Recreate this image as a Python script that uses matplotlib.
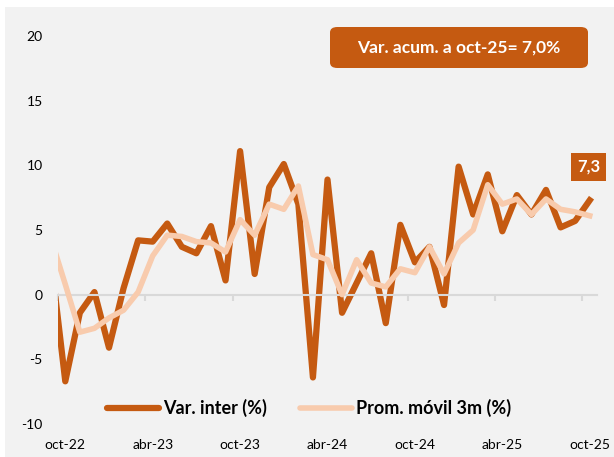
import matplotlib.pyplot as plt
from matplotlib.patches import Rectangle, FancyBboxPatch

# meses: sep-22 (recortado por el borde) hasta oct-25
meses = ['sep-22', 'oct-22', 'nov-22', 'dic-22', 'ene-23', 'feb-23', 'mar-23', 'abr-23',
         'may-23', 'jun-23', 'jul-23', 'ago-23', 'sep-23', 'oct-23', 'nov-23', 'dic-23',
         'ene-24', 'feb-24', 'mar-24', 'abr-24', 'may-24', 'jun-24', 'jul-24', 'ago-24',
         'sep-24', 'oct-24', 'nov-24', 'dic-24', 'ene-25', 'feb-25', 'mar-25', 'abr-25',
         'may-25', 'jun-25', 'jul-25', 'ago-25', 'sep-25', 'oct-25']
var_inter = [2.9, -6.7, -1.4, 0.2, -4.1, 0.5, 4.2, 4.1, 5.5, 3.7, 3.2, 5.3, 1.1, 11.1,
             1.6, 8.3, 10.1, 7.0, -6.4, 8.9, -1.4, 0.9, 3.2, -2.2, 5.4, 2.5, 3.7, -0.8,
             9.9, 6.2, 9.3, 4.9, 7.7, 6.2, 8.1, 5.2, 5.7, 7.3]
prom_movil = [4.4, 0.8, -2.9, -2.6, -1.8, -1.2, 0.2, 3.0, 4.6, 4.5, 4.1, 4.0, 3.3, 5.8,
              4.6, 7.0, 6.6, 8.4, 3.1, 2.7, 0.0, 2.7, 0.9, 0.6, 2.0, 1.7, 3.7, 1.6,
              4.0, 5.0, 8.5, 7.0, 7.4, 6.2, 7.4, 6.6, 6.4, 6.1]
etiquetas = ['oct-22', 'abr-23', 'oct-23', 'abr-24', 'oct-24', 'abr-25', 'oct-25']
yticks = [-10, -5, 0, 5, 10, 15, 20]

oscuro = '#C55A11'
claro = '#F8CBAD'
fondo = '#F2F2F2'
fuente = 'Lato'

x = list(range(-1, len(meses) - 1))

fig = plt.figure(figsize=(6.14, 4.57), dpi=100, facecolor='white')
fig.patches.append(Rectangle((5 / 614, 0), 1, 1 - 7 / 457, transform=fig.transFigure,
                             facecolor=fondo, edgecolor='none', zorder=-10))
ax = fig.add_axes([58 / 614, 33 / 457, 539 / 614, 388 / 457])
ax.set_facecolor('none')

ax.plot(x, var_inter, color=oscuro, lw=4.5, solid_joinstyle='round', label='Var. inter (%)', zorder=2)
ax.plot(x, prom_movil, color=claro, lw=4.0, solid_joinstyle='round', label='Prom. móvil 3m (%)', zorder=3)

ax.set_xlim(-0.5, 36.5)
ax.set_ylim(-10, 20)

for s in ['top', 'right', 'left']:
    ax.spines[s].set_visible(False)
ax.spines['bottom'].set_position(('data', 0))
ax.spines['bottom'].set_color('#D9D9D9')
ax.spines['bottom'].set_linewidth(1.5)
ax.set_xticks([i - 0.5 for i in range(0, 37, 6)])
ax.tick_params(axis='x', direction='out', length=4, width=1.5, color='#D9D9D9', labelbottom=False)

ax.set_yticks(yticks)
ax.set_yticklabels([str(v) for v in yticks], fontname=fuente, fontsize=10)
ax.tick_params(axis='y', length=0, pad=11)

sec = ax.secondary_xaxis('bottom')
sec.set_xticks(list(range(0, 37, 6)))
sec.set_xticklabels(etiquetas, fontname=fuente, fontsize=10)
sec.tick_params(length=0, pad=11)
sec.spines['bottom'].set_visible(False)

leg = ax.legend(loc='center', bbox_to_anchor=(0.466, 0.041), ncol=2, frameon=False,
                handlelength=2.9, handletextpad=0.22, columnspacing=1.8,
                prop={'family': fuente, 'weight': 'bold', 'size': 13})
for h in leg.get_lines():
    h.set_solid_capstyle('round')

# caja de variación acumulada
caja = FancyBboxPatch((330 / 614, 1 - 68 / 457), 258 / 614, 41 / 457,
                      boxstyle='round,pad=0,rounding_size=0.012', transform=fig.transFigure,
                      facecolor=oscuro, edgecolor='none')
fig.patches.append(caja)
fig.text(459 / 614, 1 - 48 / 457, 'Var. acum. a oct-25= 7,0%', color='white',
         fontname=fuente, fontweight='bold', fontsize=12.5, ha='center', va='center')

ax.annotate('7,3', xy=(x[-1], var_inter[-1]), xytext=(-1, 24), textcoords='offset points',
            ha='center', va='center', color='white', fontname=fuente, fontweight='bold',
            fontsize=12, bbox=dict(boxstyle='square,pad=0.35', facecolor=oscuro, edgecolor='none'))

fig.savefig('out.png', dpi=100, facecolor=fig.get_facecolor())
